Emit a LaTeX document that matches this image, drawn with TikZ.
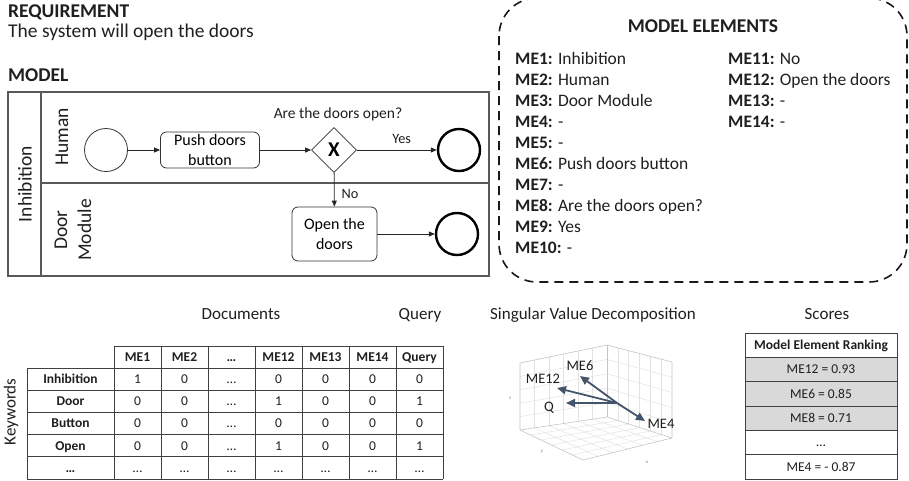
\documentclass[tikz,border=0pt]{standalone}
\usepackage{fontspec}
\setmainfont{Carlito}
\usetikzlibrary{shapes.geometric,arrows.meta,positioning,calc}

\definecolor{cellgray}{HTML}{D9D9D9}
\definecolor{vecblue}{HTML}{44546A}
\definecolor{gridgray}{HTML}{E2E2E2}
\definecolor{edgegray}{HTML}{C4C4C4}

\tikzset{
  txt/.style={inner sep=0pt, text=black!88},
  head/.style={txt, font=\fontsize{19.5}{23}\selectfont\bfseries},
  plain/.style={txt, font=\fontsize{19.5}{23}\selectfont},
  lanelabel/.style={txt, rotate=90, align=center, font=\fontsize{19.5}{24}\selectfont},
  pool/.style={draw=black!65, line width=1.1pt},
  task/.style={draw=black!80, rounded corners=6pt, line width=0.8pt, minimum width=99pt,
    minimum height=36pt, align=center, inner sep=0pt, font=\fontsize{16}{19.5}\selectfont},
  startev/.style={draw=black!80, circle, line width=0.8pt, minimum size=43pt, inner sep=0pt},
  endev/.style={draw=black, circle, line width=2.4pt, minimum size=42pt, inner sep=0pt},
  gate/.style={draw=black!80, diamond, line width=0.8pt, minimum width=45pt, minimum height=45pt,
    inner sep=0pt, font=\fontsize{21}{21}\selectfont\bfseries},
  flow/.style={-{Triangle[length=6pt,width=5pt]}, line width=0.8pt, draw=black!85},
  small/.style={txt, font=\fontsize{15.5}{18}\selectfont},
  tiny/.style={txt, font=\fontsize{14.3}{16}\selectfont},
  elembox/.style={draw=black!90, line width=1.6pt, rounded corners=38pt, dash pattern=on 9pt off 6pt},
  item/.style={txt, anchor=base west, font=\fontsize{17.5}{21}\selectfont},
  sectitle/.style={txt, anchor=base, font=\fontsize{17}{20}\selectfont},
  tab/.style={draw=black!75, line width=0.9pt},
  cell/.style={txt, text height=8.7pt, text depth=0pt, font=\fontsize{13.5}{15}\selectfont},
  cellb/.style={cell, font=\fontsize{13.5}{15}\selectfont\bfseries},
  svdgrid/.style={draw=gridgray, line width=0.5pt},
  svdedge/.style={draw=edgegray, line width=0.6pt},
  svdlab/.style={txt, font=\fontsize{14.5}{16}\selectfont},
  vec/.style={draw=vecblue, line width=1.8pt, -{Triangle[length=9pt,width=8pt]}},
}

\begin{document}
\begin{tikzpicture}[x=1pt,y=-1pt]
\useasboundingbox (0,0) rectangle (909,480);

\node[head, anchor=base west] (req) at (8,17.3) {REQUIREMENT};
\node[plain, anchor=base west] (reqtext) at (8,37.5) {The system will open the doors};
\node[head, anchor=base west] (model) at (8,81.7) {MODEL};

% process model
\draw[pool] (8,92) rectangle (489,276);
\draw[pool] (41,92) -- (41,276);
\draw[pool] (41,183) -- (489,183);
\node[lanelabel] (inhib) at (25,184) {Inhibition};
\node[lanelabel] (human) at (62,137) {Human};
\node[lanelabel] (doormod) at (73,230) {Door\\Module};

\node[startev] (start) at (106,150) {};
\node[task] (push) at (210,150) {Push doors\\button};
\node[gate] (gw) at (334,150) {X};
\node[small] (gwq) at (338,114) {Are the doors open?};
\node[endev] (end1) at (459,150) {};
\node[task, minimum width=85pt, minimum height=54pt] (opendoors) at (334.5,234) {Open the\\doors};
\node[endev] (end2) at (457,234) {};

\draw[flow] (start) -- (push);
\draw[flow] (push) -- (gw);
\draw[flow] (gw) -- node[tiny, pos=0.56, above=6pt] (yes) {Yes} (end1);
\draw[flow] (gw) -- node[tiny, pos=0.62, right=7pt] (no) {No} (opendoors);
\draw[flow] (opendoors) -- (end2);

% model elements
\draw[elembox] (499,-2) rectangle (907,282);
\node[head, anchor=base] (mehead) at (703,32) {MODEL ELEMENTS};
\foreach \lab/\val [count=\k] in {ME1/Inhibition, ME2/Human, ME3/Door Module, ME4/-, ME5/-,
    ME6/Push doors button, ME7/-, ME8/Are the doors open?, ME9/Yes, ME10/-}
  \node[item] (\lab) at (515,{64+21*(\k-1)}) {\textbf{\lab:} \val};
\foreach \lab/\val [count=\k] in {ME11/No, ME12/Open the doors, ME13/-, ME14/-}
  \node[item] (\lab) at (728,{64+21*(\k-1)}) {\textbf{\lab:} \val};

% term-document matrix
\node[sectitle] (docs) at (241,319) {Documents};
\node[sectitle] (query) at (420,319) {Query};
\node[sectitle, rotate=90, anchor=center] (kw) at (11,412) {Keywords};
\draw[tab] (114,346) -- (443,346);
\foreach \y in {368.2,390.3,412.5,434.7,456.8,479}
  \draw[tab] (27,\y) -- (443,\y);
\draw[tab] (27,368.2) -- (27,479);
\foreach \x in {114,161,208,255,302,349,396,443}
  \draw[tab] (\x,346) -- (\x,479);
\foreach \h [count=\c] in {ME1,ME2,…,ME12,ME13,ME14,Query}
  \node[cellb] (h\c) at ({90.5+47*\c},357.1) {\h};
\foreach \kw/\vals [count=\r] in {Inhibition/{1,0,…,0,0,0,0}, Door/{0,0,…,1,0,0,1},
    Button/{0,0,…,0,0,0,0}, Open/{0,0,…,1,0,0,1}, …/{…,…,…,…,…,…,…}} {
  \node[cellb] (k\r) at (70.5,{357.1+22.17*\r}) {\kw};
  \foreach \v [count=\c] in \vals
    \node[cell] (v\r-\c) at ({90.5+47*\c},{357.1+22.17*\r}) {\v};
}

% svd plot
\node[sectitle] (svdt) at (593,319.3) {Singular Value Decomposition};
\coordinate (B) at (607,417);
\coordinate (L) at (520,430);
\coordinate (R) at (672,438);
\coordinate (F) at (583,460);
\coordinate (Bt) at (607,345);
\coordinate (Lt) at (520,363);
\coordinate (Rt) at (672,362);
\foreach \t in {0.1667,0.3333,0.5,0.6667,0.8333} {
  \draw[svdgrid] ($(B)!\t!(L)$) -- ($(Bt)!\t!(Lt)$);
  \draw[svdgrid] ($(B)!\t!(R)$) -- ($(Bt)!\t!(Rt)$);
  \draw[svdgrid] ($(B)!\t!(L)$) -- ($(R)!\t!(F)$);
  \draw[svdgrid] ($(B)!\t!(R)$) -- ($(L)!\t!(F)$);
}
\foreach \s in {0.2,0.4,0.6,0.8} {
  \draw[svdgrid] ($(B)!\s!(Bt)$) -- ($(L)!\s!(Lt)$);
  \draw[svdgrid] ($(B)!\s!(Bt)$) -- ($(R)!\s!(Rt)$);
}
\draw[svdedge] (L) -- (Lt) -- (Bt) -- (Rt) -- (R);
\draw[svdedge] (L) -- (B) -- (R);
\draw[svdedge] (Bt) -- (B);
\draw[svdedge] (L) -- (F) -- (R);
\node[txt, font=\fontsize{5}{5}\selectfont, text=black!50] (zax) at (510,398) {z};
\node[txt, font=\fontsize{5}{5}\selectfont, text=black!50] (yax) at (542,452) {y};
\node[txt, font=\fontsize{5}{5}\selectfont, text=black!50] (xax) at (647,462) {x};

\coordinate (O) at (617,403);
\coordinate (t6) at (580,376);
\coordinate (t12) at (557,388);
\coordinate (tq) at (566,403);
\coordinate (t4) at (645,421);
\draw[vec] (O) -- (t6);
\draw[vec] (O) -- (t12);
\draw[vec] (O) -- (tq);
\draw[vec] (O) -- (t4);
\node[svdlab] (me6lab) at (580,366) {ME6};
\node[svdlab] (me12lab) at (543,379) {ME12};
\node[svdlab] (qlab) at (549,408) {Q};
\node[svdlab] (me4lab) at (661,424) {ME4};

% scores
\node[sectitle] (scores) at (827,319.3) {Scores};
\fill[cellgray] (745,357.3) rectangle (897,430.3);
\draw[tab] (745,333) rectangle (897,479);
\foreach \y in {357.3,381.7,406,430.3,454.7}
  \draw[tab] (745,\y) -- (897,\y);
\node[cellb] (rankhead) at (821,345.2) {Model Element Ranking};
\foreach \sc [count=\r] in {ME12 = 0.93, ME6 = 0.85, ME8 = 0.71, …, ME4 = - 0.87}
  \node[cell] (rank\r) at (821,{345.2+24.33*\r}) {\sc};
\end{tikzpicture}
\end{document}
